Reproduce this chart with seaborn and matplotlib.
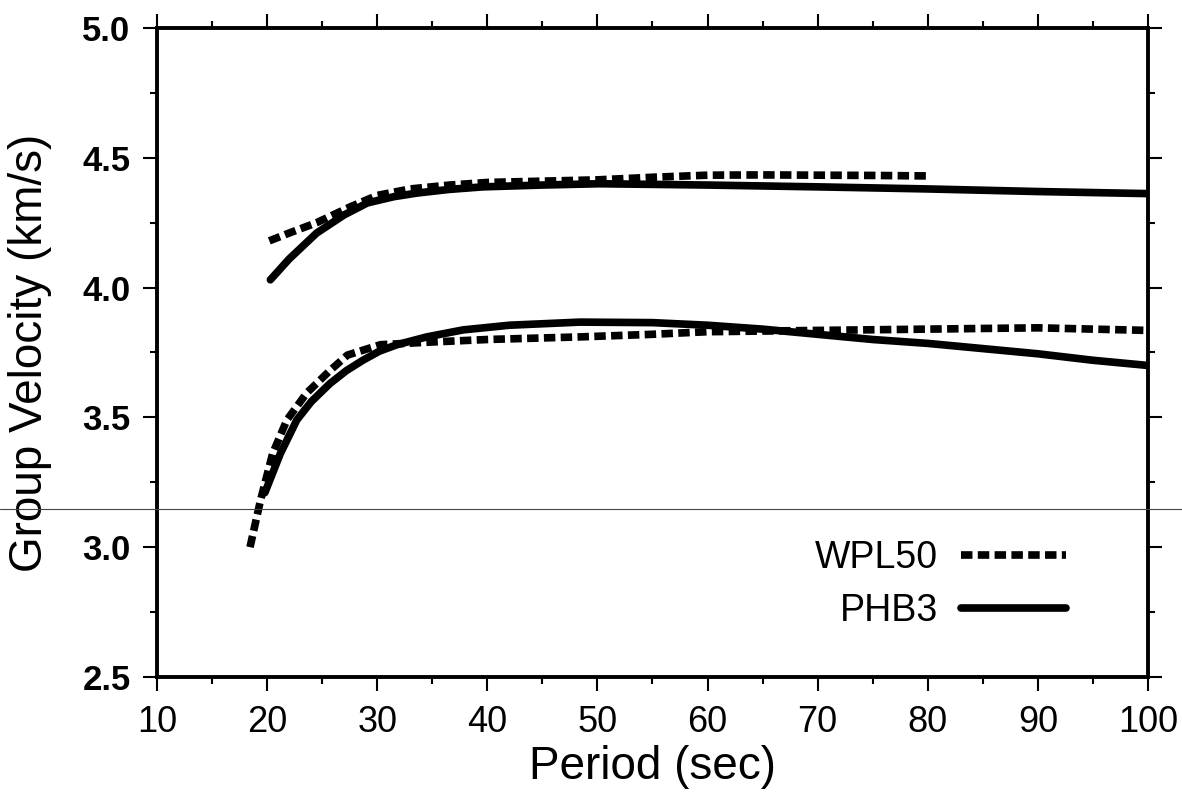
import matplotlib.pyplot as plt
import seaborn as sns
import pandas as pd
from matplotlib.lines import Line2D
from matplotlib.ticker import MultipleLocator

# WPL50 (dashed) - upper branch
wpl_up_x = [20.2, 22.0, 24.5, 27.5, 30.0, 33.0, 36.6, 40.0, 45.0, 50.0, 55.0, 60.0, 65.0, 70.0, 75.0, 80.2]
wpl_up_y = [4.18, 4.21, 4.25, 4.31, 4.355, 4.38, 4.395, 4.405, 4.41, 4.415, 4.425, 4.433, 4.434, 4.433, 4.432, 4.43]
# WPL50 (dashed) - lower branch
wpl_lo_x = [18.45, 19.4, 20.5, 21.8, 23.6, 25.7, 27.3, 30.3, 34.8, 40.0, 48.4, 55.0, 60.0, 70.0, 80.0, 90.0, 100.0]
wpl_lo_y = [3.00, 3.18, 3.36, 3.49, 3.594, 3.68, 3.74, 3.78, 3.79, 3.80, 3.81, 3.82, 3.83, 3.835, 3.84, 3.845, 3.835]
# PHB3 (solid) - upper branch
phb_up_x = [20.3, 22.0, 24.5, 27.0, 29.1, 31.5, 33.6, 36.5, 39.6, 45.0, 50.2, 60.0, 70.0, 80.0, 90.0, 100.0]
phb_up_y = [4.03, 4.11, 4.21, 4.28, 4.326, 4.35, 4.364, 4.378, 4.388, 4.395, 4.40, 4.395, 4.388, 4.38, 4.37, 4.362]
# PHB3 (solid) - lower branch
phb_lo_x = [19.8, 21.2, 22.7, 24.0, 25.7, 27.2, 28.7, 30.2, 31.8, 34.5, 37.8, 42.0, 48.4, 55.0, 60.0, 65.0, 70.0, 75.0, 80.0, 85.0, 90.0, 95.0, 100.0]
phb_lo_y = [3.21, 3.36, 3.49, 3.56, 3.63, 3.68, 3.72, 3.755, 3.78, 3.81, 3.837, 3.855, 3.867, 3.865, 3.855, 3.84, 3.82, 3.80, 3.785, 3.765, 3.745, 3.72, 3.70]

sns.set_theme(style="ticks")
plt.rcParams['font.family'] = ['Liberation Sans', 'DejaVu Sans']
plt.rcParams['text.color'] = 'black'
plt.rcParams['axes.labelcolor'] = 'black'
plt.rcParams['xtick.color'] = 'black'
plt.rcParams['ytick.color'] = 'black'

fig = plt.figure(figsize=(11.82, 8.09), dpi=100)
ax = fig.add_axes([0.1328, 0.1632, 0.8384, 0.8022])

dash = (1.5, 0.7)
sns.lineplot(x=wpl_up_x, y=wpl_up_y, ax=ax, color='black', linewidth=5.5, sort=False)
sns.lineplot(x=wpl_lo_x, y=wpl_lo_y, ax=ax, color='black', linewidth=5.5, sort=False)
sns.lineplot(x=phb_up_x, y=phb_up_y, ax=ax, color='black', linewidth=5.5, sort=False)
sns.lineplot(x=phb_lo_x, y=phb_lo_y, ax=ax, color='black', linewidth=5.5, sort=False)
for ln in ax.lines[:2]:
    ln.set_linestyle((0, dash))
for ln in ax.lines:
    ln.set_dash_capstyle('butt')

ax.set_xlim(10, 100)
ax.set_ylim(2.5, 5.0)
ax.xaxis.set_major_locator(MultipleLocator(10))
ax.xaxis.set_minor_locator(MultipleLocator(5))
ax.yaxis.set_major_locator(MultipleLocator(0.5))
ax.yaxis.set_minor_locator(MultipleLocator(0.25))
ax.yaxis.set_major_formatter(plt.FormatStrFormatter('%.1f'))

for s in ax.spines.values():
    s.set_visible(True)
    s.set_linewidth(2.8)
    s.set_color('black')
ax.tick_params(which='both', direction='out', top=True, right=True, width=1.5, color='black')
ax.tick_params(which='major', length=10)
ax.tick_params(which='minor', length=5)
ax.tick_params(axis='x', labelsize=26, pad=10)
ax.tick_params(axis='y', labelsize=25, pad=9)
for t in ax.get_yticklabels():
    t.set_fontweight('bold')

ax.set_xlabel('Period (sec)', fontsize=33, labelpad=4)
ax.set_ylabel('Group Velocity (km/s)', fontsize=33, labelpad=22)

handles = [Line2D([], [], color='black', linewidth=5.5, linestyle=(0, dash), dash_capstyle='butt'),
           Line2D([], [], color='black', linewidth=5.5)]
ax.legend(handles, ['WPL50', 'PHB3'], loc='lower right', bbox_to_anchor=(0.951, 0.022),
          frameon=False, markerfirst=False, fontsize=27, handlelength=2.8,
          handletextpad=0.6, labelspacing=0.45)

# thin scan line across the page
fig.add_artist(Line2D([0, 1], [0.371, 0.371], transform=fig.transFigure,
                      color='#444444', linewidth=0.8))

fig.savefig('out.png', dpi=100)
